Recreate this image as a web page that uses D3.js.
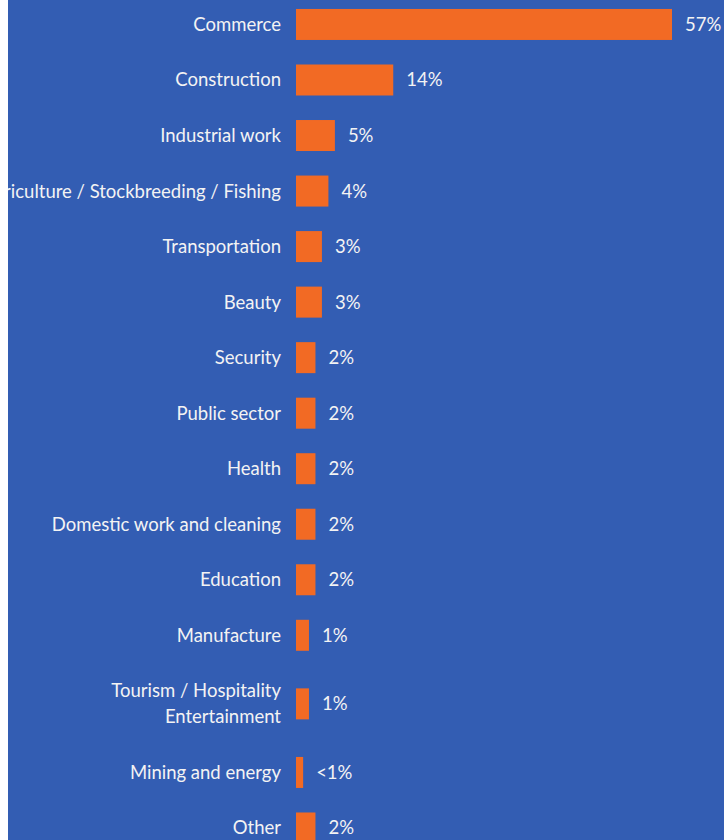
<!DOCTYPE html>
<html>
<head>
<meta charset="utf-8">
<script src="https://cdn.jsdelivr.net/npm/d3@7"></script>
<style>
  html, body { margin: 0; padding: 0; background: #ffffff; }
  body { width: 724px; height: 840px; overflow: hidden; position: relative; }
  #chart { position: absolute; left: 8px; top: 0; }
  svg { display: block; overflow: hidden; }
</style>
</head>
<body>
<div id="chart"></div>
<script>
// Sectors of employment (share of respondents, %)
const sectors = [
  "Commerce",
  "Construction",
  "Industrial work",
  "Agriculture / Stockbreeding / Fishing",
  "Transportation",
  "Beauty",
  "Security",
  "Public sector",
  "Health",
  "Domestic work and cleaning",
  "Education",
  "Manufacture",
  "Tourism / Hospitality\nEntertainment",
  "Mining and energy",
  "Other"
];
const shares = [57, 14, 5, 4, 3, 3, 2, 2, 2, 2, 2, 1, 1, 0.1, 2];
const shareLabels = ["57%", "14%", "5%", "4%", "3%", "3%", "2%", "2%", "2%", "2%", "2%", "1%", "1%", "<1%", "2%"];

const W = 716, H = 840;
const offsetX = 8; // panel starts 8px in from the page edge
const svg = d3.select("#chart").append("svg")
  .attr("width", W).attr("height", H);

svg.append("rect").attr("width", W).attr("height", H).attr("fill", "#335db3");

const labelRight = 281 - offsetX;
const barLeft = 296 - offsetX;

// bar length: a short stub is kept for the smallest categories
const x = d3.scaleLinear().domain([-1, 57]).range([barLeft, 672 - offsetX]);

// rows with two-line labels get a little more room
const lines = sectors.map(s => s.split("\n"));
const weights = lines.map(l => 1 + 0.47 * (l.length - 1));
const starts = [0, ...d3.cumsum(weights)];
const total = starts[starts.length - 1];
const y = d3.scaleLinear().domain([0, total]).range([-3.3, -3.3 + total * 55.53]);
const center = i => y(starts[i] + weights[i] / 2);

const barH = 31;
const font = "Lato, 'Open Sans', sans-serif";

const rows = svg.append("g").selectAll("g").data(sectors).join("g");

rows.append("rect")
  .attr("x", x(-1))
  .attr("y", (d, i) => center(i) - barH / 2)
  .attr("width", (d, i) => x(shares[i]) - x(-1))
  .attr("height", barH)
  .attr("fill", "#f26a24");

rows.append("text")
  .attr("x", labelRight)
  .attr("text-anchor", "end")
  .attr("fill", "#f3f3f3")
  .style("font-family", font)
  .style("font-weight", 400)
  .style("font-size", "18.5px")
  .each(function(d, i) {
    const ls = lines[i];
    const lh = 26;
    const y0 = center(i) - (ls.length - 1) * lh / 2;
    d3.select(this).selectAll("tspan").data(ls).join("tspan")
      .attr("x", labelRight)
      .attr("y", (t, j) => y0 + j * lh)
      .attr("dy", "0.35em")
      .text(t => t);
  });

rows.append("text")
  .attr("x", (d, i) => x(shares[i]) + 13)
  .attr("y", (d, i) => center(i))
  .attr("dy", "0.35em")
  .attr("fill", "#f3f3f3")
  .style("font-family", font)
  .style("font-weight", 400)
  .style("font-size", "18.5px")
  .text((d, i) => shareLabels[i]);
</script>
</body>
</html>
